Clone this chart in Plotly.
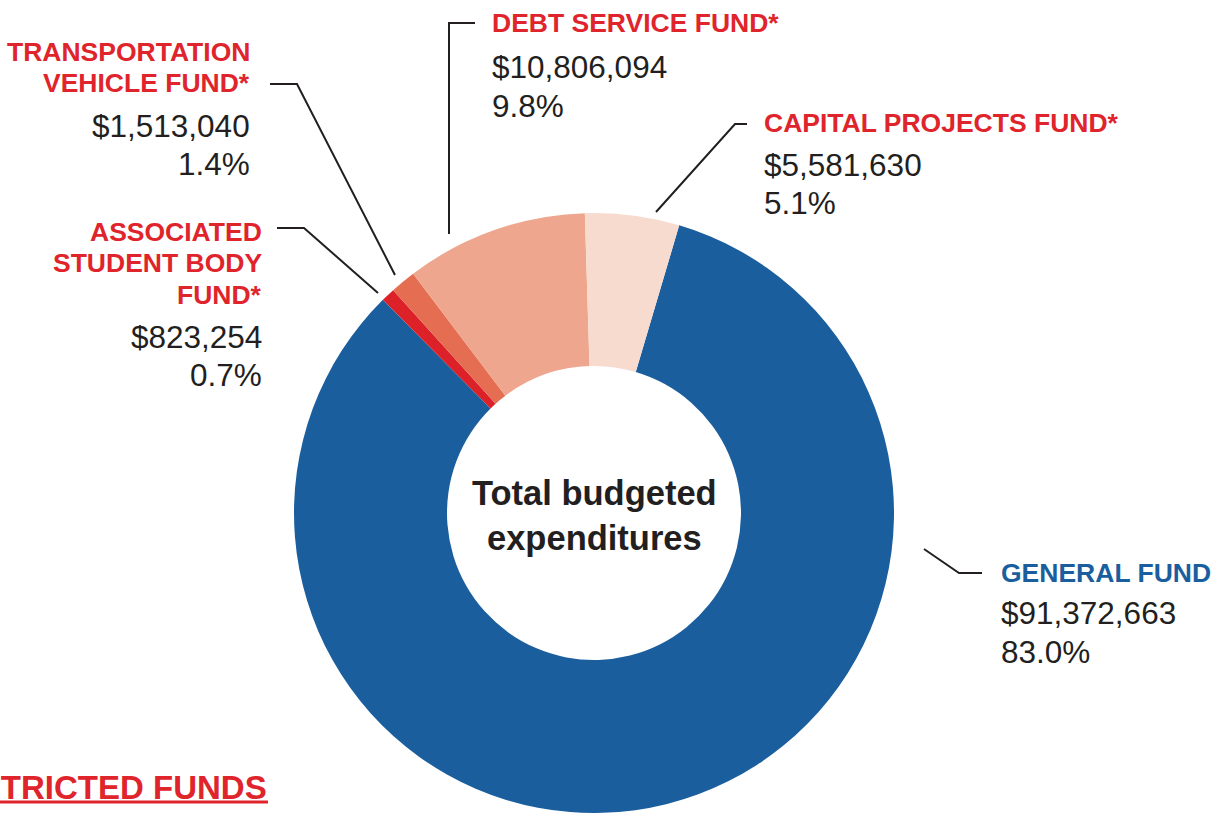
import plotly.graph_objects as go

# ---- data ----
fund_names = ["GENERAL FUND", "ASSOCIATED STUDENT BODY FUND*", "TRANSPORTATION VEHICLE FUND*",
              "DEBT SERVICE FUND*", "CAPITAL PROJECTS FUND*"]
fund_title_lines = [["GENERAL FUND"], ["ASSOCIATED", "STUDENT BODY", "FUND*"],
                    ["TRANSPORTATION", "VEHICLE FUND*"], ["DEBT SERVICE FUND*"], ["CAPITAL PROJECTS FUND*"]]
fund_amounts = [91372663, 823254, 1513040, 10806094, 5581630]
center_lines = ["Total budgeted", "expenditures"]
footer_label = "RESTRICTED FUNDS"

# ---- styles / layout ----
W, H = 1221, 813
slice_colors = ["#1a5e9e", "#dc2128", "#e56e52", "#eea78e", "#f7dbcf"]
title_colors = ["#1a5e9e", "#e0242c", "#e0242c", "#e0242c", "#e0242c"]
dark = "#231f20"
FONT = "Liberation Sans, Arial, Helvetica, sans-serif"


def px(x):
    return x / W


def py(y):
    return 1 - y / H


# label placements (pixel coords): x, anchor, title line centres, value line centres
label_pos = [
    (1000, "left", [573], [613, 652]),
    (263, "right", [232, 263.5, 295], [337, 375]),
    (251, "right", [52, 83], [126, 164]),
    (491, "left", [23], [67, 106]),
    (763, "left", [123], [165, 203]),
]
# leader lines (pixel coords)
leaders = [
    [(924, 549), (959, 573), (982, 573)],
    [(277, 228), (304, 228), (378, 293)],
    [(270, 84), (297, 84), (395, 275)],
    [(475, 23), (449, 23), (449, 234)],
    [(656, 212), (735, 124), (747, 124)],
]

total = sum(fund_amounts)

fig = go.Figure()
fig.add_trace(go.Pie(
    labels=fund_names,
    values=fund_amounts,
    hole=0.49,
    sort=False,
    direction="clockwise",
    rotation=16.5,
    marker=dict(colors=slice_colors, line=dict(width=0)),
    textinfo="none",
    hoverinfo="label+value+percent",
    domain=dict(x=[px(294), px(894)], y=[0, 600 / H]),
    showlegend=False,
))

annotations = []


def add_text(x, y, text, anchor, size, color, bold=False):
    annotations.append(dict(
        x=px(x), y=py(y), xref="paper", yref="paper", xanchor=anchor, yanchor="middle",
        text=f"<b>{text}</b>" if bold else text, showarrow=False,
        font=dict(family=FONT, size=size, color=color), borderpad=0,
    ))


for lines, amt, col, (x, anc, tys, vys) in zip(fund_title_lines, fund_amounts, title_colors, label_pos):
    for line, ty in zip(lines, tys):
        add_text(x, ty, line, anc, 26.5, col, bold=True)
    value_lines = [f"${amt:,}", f"{amt / total * 100:.1f}%"]
    for line, vy in zip(value_lines, vys):
        add_text(x, vy, line, anc, 31.5, dark)

for line, cy in zip(center_lines, [492.5, 538]):
    add_text(594, cy, line, "center", 34.5, dark, bold=True)

add_text(268, 787, footer_label, "right", 33, "#e0242c", bold=True)

shapes = []
for pts in leaders:
    path = "M " + " L ".join(f"{px(a)},{py(b)}" for a, b in pts)
    shapes.append(dict(type="path", path=path, xref="paper", yref="paper",
                       line=dict(color=dark, width=2)))
shapes.append(dict(type="line", x0=0, x1=px(268), y0=py(802), y1=py(802), xref="paper", yref="paper",
                   line=dict(color="#e0242c", width=3)))

fig.update_layout(
    width=W, height=H,
    margin=dict(l=0, r=0, t=0, b=0),
    paper_bgcolor="white", plot_bgcolor="white",
    annotations=annotations, shapes=shapes,
)

fig.write_html("out.html", config={"displayModeBar": False},
               post_script="document.body.style.margin='0';")
